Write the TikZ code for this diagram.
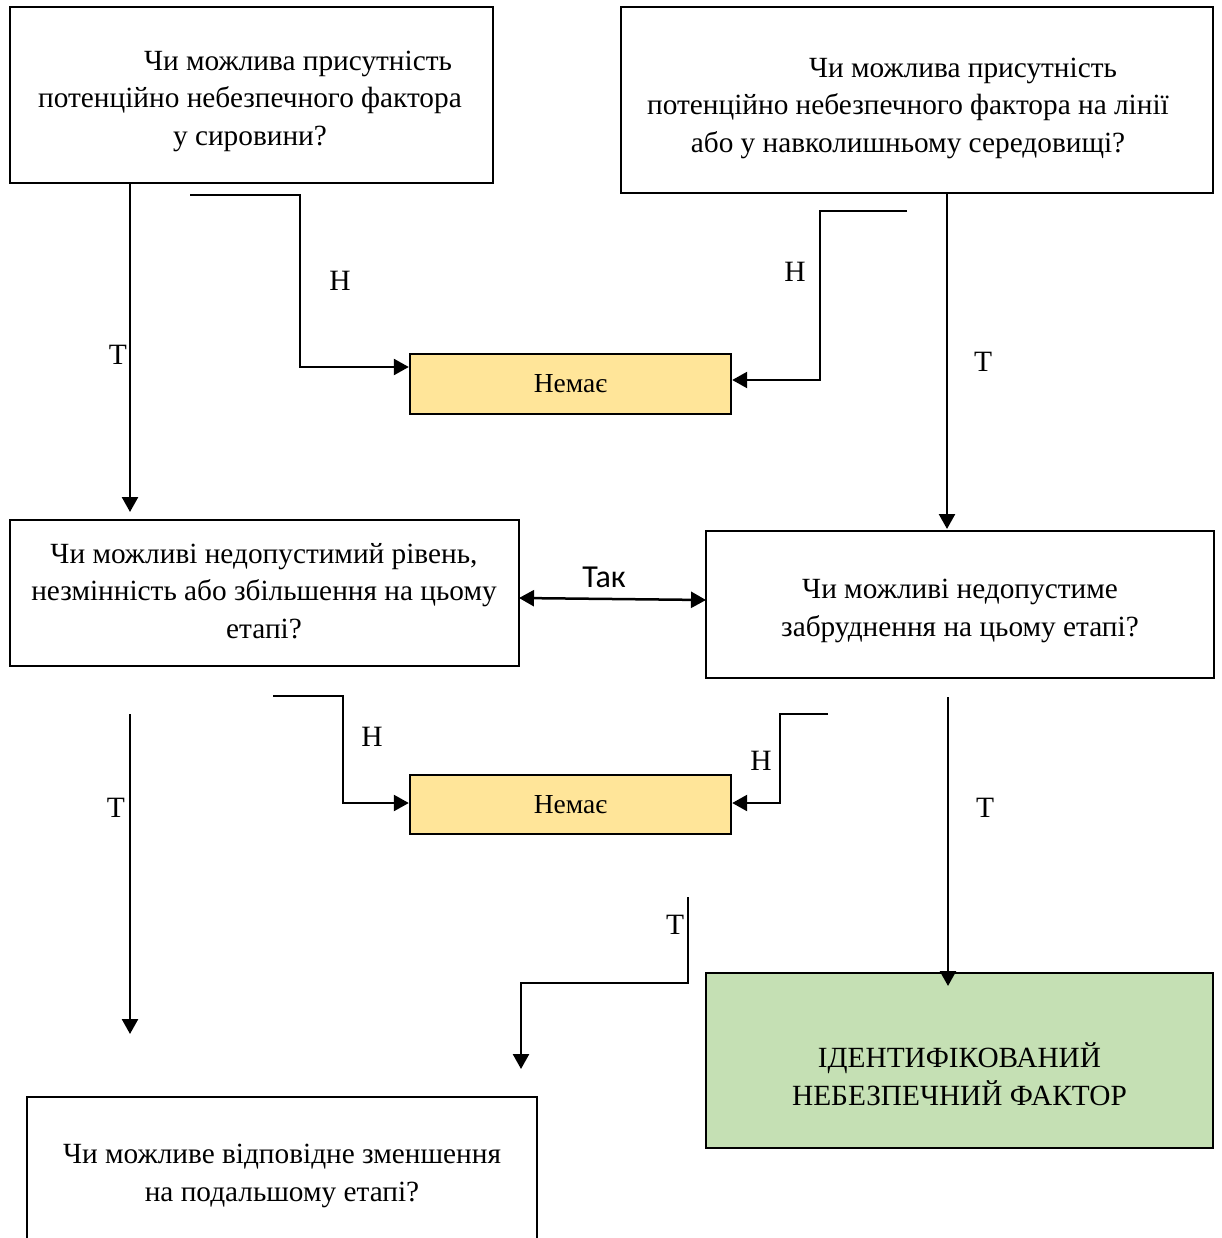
\documentclass[tikz,border=0pt]{standalone}
\usepackage{fontspec}
\setmainfont{Liberation Serif}
\newfontfamily\carl{Carlito}
\usetikzlibrary{arrows.meta}
\definecolor{nemfill}{HTML}{FFE599}
\definecolor{grfill}{HTML}{C5E0B4}
\begin{document}
\begin{tikzpicture}[x=1pt,y=-1pt,
  box/.style={draw, line width=2.4pt, inner sep=0pt},
  nem/.style={box, fill=nemfill, font=\fontsize{27.5}{32}\selectfont},
  grn/.style={box, fill=grfill},
  txt/.style={inner sep=0pt, align=center, font=\fontsize{29.3}{37.5}\selectfont},
  lbl/.style={inner sep=0pt, font=\fontsize{29.5}{30}\selectfont},
  tip/.style={Triangle[length=15pt,width=16pt]},
  arr/.style={line width=2.5pt, -{Triangle[length=15pt,width=16pt]}},
  darr/.style={line width=2.5pt, {Triangle[length=15pt,width=16pt]}-{Triangle[length=15pt,width=16pt]}}]
\useasboundingbox (0,0) rectangle (1221,1238);
\clip (0,0) rectangle (1221,1238);
\fill[white] (0,0) rectangle (1221,1238);

% boxes
\node[box, minimum width=483pt, minimum height=176pt] (q1) at (251.5,95) {};
\node[txt] (q1t) at (250,101)
  {\hspace*{96pt}Чи можлива присутність\\потенційно небезпечного фактора\\у сировини?};
\node[box, minimum width=592pt, minimum height=186pt] (q2) at (917,100) {};
\node[txt] (q2t) at (908,108)
  {\hspace*{110pt}Чи можлива присутність\\потенційно небезпечного фактора на лінії\\або у навколишньому середовищі?};
\node[nem, minimum width=321pt, minimum height=60pt] (n1) at (570.5,384) {Немає};
\node[box, minimum width=509pt, minimum height=146pt] (q3) at (264.5,593) {};
\node[txt] (q3t) at (264,591)
  {Чи можливі недопустимий рівень,\\незмінність або збільшення на цьому\\етапі?};
\node[box, minimum width=508pt, minimum height=147pt] (q4) at (960,604.5) {};
\node[txt] (q4t) at (960,611) {Чи можливі недопустиме\\забруднення на цьому етапі?};
\node[nem, minimum width=321pt, minimum height=59pt] (n2) at (570.5,804.5) {Немає};
\node[grn, minimum width=507pt, minimum height=175pt] (g) at (959.5,1060.5) {};
\node[txt] (gt) at (959.5,1074) {ІДЕНТИФІКОВАНИЙ\\НЕБЕЗПЕЧНИЙ ФАКТОР};
\node[box, minimum width=510pt, minimum height=154pt] (q5) at (282,1174) {};
\node[txt] (q5t) at (282,1176) {Чи можливе відповідне зменшення\\на подальшому етапі?};

% free ends
\coordinate (a1s) at (130,183);  \coordinate (a1e) at (130,512);
\coordinate (h1s) at (190,195);  \coordinate (h1b) at (300,367);
\coordinate (h2s) at (907,211);  \coordinate (h2b) at (820,380);
\coordinate (a2s) at (947,193);  \coordinate (a2e) at (947,529);
\coordinate (ts)  at (519,598);  \coordinate (te)  at (706,600);
\coordinate (a3s) at (130,714);  \coordinate (a3e) at (130,1034);
\coordinate (h3s) at (273,696);  \coordinate (h3b) at (343,803);
\coordinate (h4s) at (828,714);  \coordinate (h4b) at (780,803);
\coordinate (a4s) at (948,697);  \coordinate (a4e) at (948,986);
\coordinate (a5s) at (688,897);  \coordinate (a5b) at (521,983); \coordinate (a5e) at (521,1069);

% connectors
\draw[arr] (a1s) -- (a1e);
\draw[arr] (h1s) -| (h1b) -- (n1.west |- h1b);
\draw[arr] (h2s) -| (h2b) -- (n1.east |- h2b);
\draw[arr] (a2s) -- (a2e);
\draw[darr] (ts) -- (te);
\draw[arr] (a3s) -- (a3e);
\draw[arr] (h3s) -| (h3b) -- (n2.west |- h3b);
\draw[arr] (h4s) -| (h4b) -- (n2.east |- h4b);
\draw[arr] (a4s) -- (a4e);
\draw[arr] (a5s) |- (a5b) -- (a5e);

% labels
\node[lbl] (l1) at (118,355) {Т};
\node[lbl] (l2) at (340,281) {Н};
\node[lbl] (l3) at (795,272) {Н};
\node[lbl] (l4) at (983,362) {Т};
\node[lbl, font=\carl\fontsize{32}{34}\selectfont] (l5) at (604,577) {Так};
\node[lbl] (l6) at (116,808) {Т};
\node[lbl] (l7) at (372,737) {Н};
\node[lbl] (l8) at (761,761) {Н};
\node[lbl] (l9) at (985,808) {Т};
\node[lbl] (l10) at (675,925) {Т};
\end{tikzpicture}
\end{document}
